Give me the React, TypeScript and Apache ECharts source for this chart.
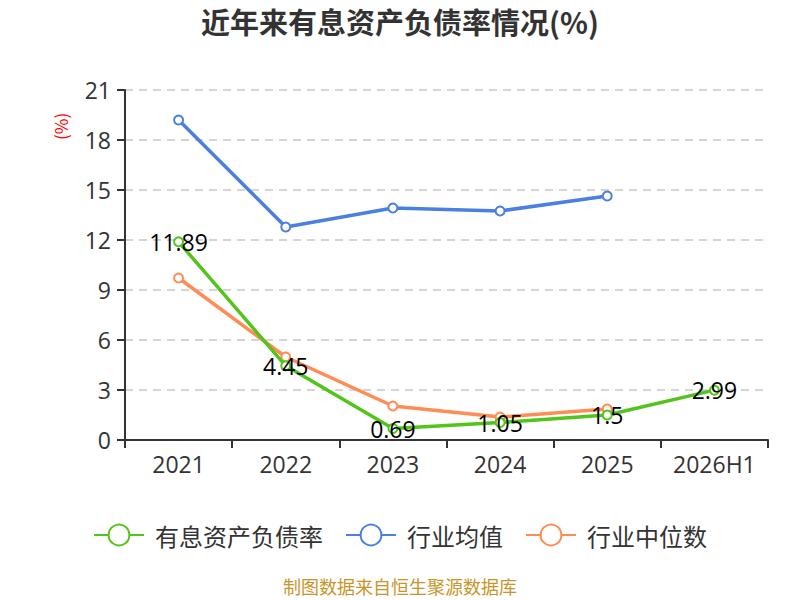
import React, { useEffect, useRef } from "react";
import * as echarts from "echarts";

const categories = ["2021", "2022", "2023", "2024", "2025", "2026H1"];
const debtRatio = [11.89, 4.45, 0.69, 1.05, 1.5, 2.99];
const industryAvg = [19.2, 12.78, 13.92, 13.74, 14.64, null];
const industryMedian = [9.72, 4.98, 2.04, 1.38, 1.86, null];
const seriesNames = ["有息资产负债率", "行业均值", "行业中位数"];
const colors = ["#52c41a", "#4a80e0", "#ff8c55"];

const FONT = "Noto Sans CJK SC";
const NUMFONT = "'Open Sans', 'Noto Sans CJK SC'";

export default function App() {
  const ref = useRef<HTMLDivElement>(null);
  useEffect(() => {
    document.body.style.margin = "0";
    const chart = echarts.init(ref.current!, null, { renderer: "svg" });
    const mk = (name: string, data: any[], color: string, label: boolean) => ({
      name,
      type: "line",
      data,
      symbol: "emptyCircle",
      symbolSize: 9,
      lineStyle: { width: 3.5, color },
      itemStyle: { color, borderWidth: 2 },
      label: label
        ? { show: true, position: "inside", color: "#000", fontSize: 23, fontFamily: NUMFONT }
        : { show: false },
      z: label ? 3 : 2,
    });
    chart.setOption({
      animation: false,
      title: {
        text: "近年来有息资产负债率情况(%)",
        left: "center",
        top: 1,
        textStyle: { fontSize: 29, fontWeight: "bold", color: "#333", fontFamily: FONT },
      },
      grid: { left: 125, right: 32, top: 90, bottom: 160 },
      xAxis: {
        type: "category",
        data: categories,
        boundaryGap: true,
        axisLine: { lineStyle: { color: "#333", width: 2 } },
        axisTick: { show: true, interval: 0, length: 8, lineStyle: { color: "#333", width: 2 } },
        axisLabel: { interval: 0, fontSize: 23, color: "#333", margin: 12, fontFamily: NUMFONT },
      },
      yAxis: {
        type: "value",
        min: 0,
        max: 21,
        interval: 3,
        axisLine: { show: true, lineStyle: { color: "#333", width: 2 } },
        axisTick: { show: true, length: 8, lineStyle: { color: "#333", width: 2 } },
        axisLabel: { fontSize: 23, color: "#333", margin: 14, fontFamily: NUMFONT },
        splitLine: { lineStyle: { type: [8, 6], color: "#c8c8c8", width: 1.5 } },
      },
      legend: {
        bottom: 48,
        left: "center",
        itemWidth: 50,
        itemHeight: 26,
        itemGap: 22,
        textStyle: { fontSize: 24, color: "#333", fontFamily: FONT, padding: [0, 0, 0, 6] },
        data: seriesNames,
      },
      graphic: [
        {
          type: "text",
          x: 52,
          y: 140,
          rotation: Math.PI / 2,
          style: { text: "(%)", fill: "#ff0000", fontSize: 17, fontFamily: FONT },
        },
        {
          type: "text",
          left: "center",
          top: 577,
          style: { text: "制图数据来自恒生聚源数据库", fill: "#c8952a", fontSize: 18, fontFamily: FONT },
        },
      ],
      series: [
        mk(seriesNames[0], debtRatio, colors[0], true),
        mk(seriesNames[1], industryAvg, colors[1], false),
        mk(seriesNames[2], industryMedian, colors[2], false),
      ],
    });
    return () => chart.dispose();
  }, []);
  return <div ref={ref} style={{ width: 800, height: 600 }} />;
}
